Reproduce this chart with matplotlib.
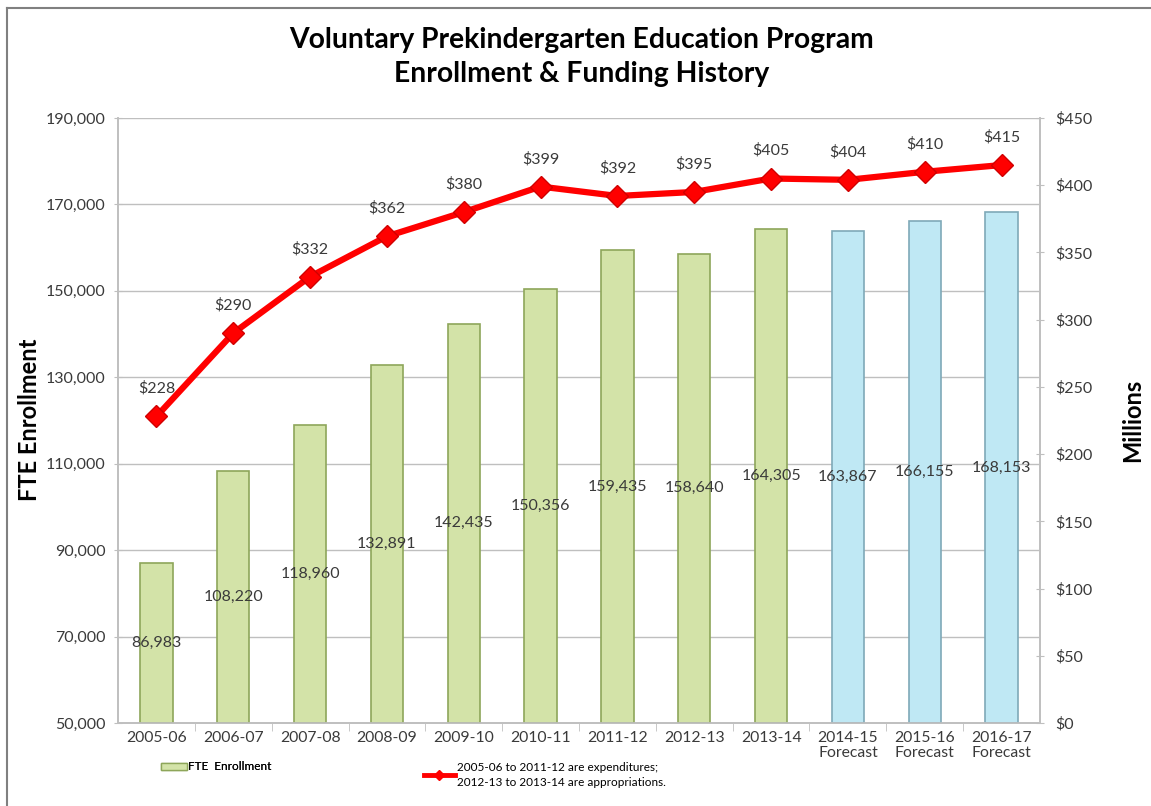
import matplotlib
matplotlib.use("Agg")
import matplotlib.pyplot as plt
from matplotlib.lines import Line2D
from matplotlib.patches import Patch
from matplotlib.ticker import FuncFormatter

plt.rcParams['font.family'] = ['Lato', 'DejaVu Sans']

years = ["2005-06", "2006-07", "2007-08", "2008-09", "2009-10", "2010-11",
         "2011-12", "2012-13", "2013-14", "2014-15\nForecast",
         "2015-16\nForecast", "2016-17\nForecast"]
enrollment = [86983, 108220, 118960, 132891, 142435, 150356,
              159435, 158640, 164305, 163867, 166155, 168153]
funding = [228, 290, 332, 362, 380, 399, 392, 395, 405, 404, 410, 415]
forecast = [False] * 9 + [True] * 3

green_face, green_edge = "#d3e3a8", "#8ea65a"
blue_face, blue_edge = "#bfe8f4", "#7fa9b8"
grid_c = "#bfbfbf"
text_c = "#3a3a3a"

fig = plt.figure(figsize=(11.51, 8.06), dpi=100)
ax = fig.add_axes([118 / 1151, 83 / 806, 922 / 1151, 605 / 806])
ax2 = ax.twinx()

x = list(range(len(years)))
faces = [blue_face if f else green_face for f in forecast]
edges = [blue_edge if f else green_edge for f in forecast]
ax.bar(x, [v - 50000 for v in enrollment], width=0.42, bottom=50000,
       color=faces, edgecolor=edges, linewidth=1.2, zorder=3)
for xi, v in zip(x, enrollment):
    ax.text(xi, (50000 + v) / 2, f"{v:,}", ha="center", va="center",
            fontsize=11.5, color=text_c, zorder=4)

ax.set_ylim(50000, 190000)
ax.set_yticks(range(50000, 190001, 20000))
ax.yaxis.set_major_formatter(FuncFormatter(lambda v, p: f"{int(v):,}"))
ax.set_xlim(-0.5, len(years) - 0.5)
ax.set_xticks(x)
ax.set_xticklabels(years, fontsize=11.3, color=text_c, linespacing=1.1)
ax.set_xticks([i + 0.5 for i in x[:-1]], minor=True)
ax.tick_params(axis="x", which="major", length=0, pad=6)
ax.tick_params(axis="x", which="minor", length=6, color=grid_c, direction="out")
ax.tick_params(axis="y", labelsize=11.5, labelcolor=text_c, color=grid_c,
               length=6, direction="inout", pad=6)
ax.grid(axis="y", color=grid_c, linewidth=1, zorder=0)
ax.set_axisbelow(True)
for s in ["left", "right", "bottom"]:
    ax.spines[s].set_color(grid_c)
    ax.spines[s].set_linewidth(1.2)
ax.spines["top"].set_visible(False)
fig.text(30 / 1151, 1 - 420 / 806, "FTE Enrollment", rotation=90, ha="center",
         va="center", fontsize=17, fontweight="bold")

ax2.plot(x, funding, color="#ff0000", linewidth=4.5, marker="D",
         markersize=11, markerfacecolor="#ff0000", markeredgecolor="#d00000",
         zorder=5)
for xi, v in zip(x, funding):
    ax2.annotate(f"${v}", (xi, v), xytext=(0, 20), textcoords="offset points",
                 ha="center", va="center", fontsize=11.5, color=text_c)
ax2.set_ylim(0, 450)
ax2.set_yticks(range(0, 451, 50))
ax2.yaxis.set_major_formatter(FuncFormatter(lambda v, p: f"${int(v)}"))
ax2.tick_params(axis="y", labelsize=11.5, labelcolor=text_c, color=grid_c,
                length=6, direction="inout", pad=8)
for s in ["left", "right", "bottom"]:
    ax2.spines[s].set_color(grid_c)
    ax2.spines[s].set_linewidth(1.2)
ax2.spines["top"].set_visible(False)
ax2.set_zorder(ax.get_zorder() + 1)
ax2.patch.set_visible(False)
fig.text(1133 / 1151, 1 - 420 / 806, "Millions", rotation=90, ha="center",
         va="center", fontsize=17, fontweight="bold")

fig.text(0.505, 1 - 40 / 806, "Voluntary Prekindergarten Education Program",
         ha="center", va="center", fontsize=20.3, fontweight="bold")
fig.text(0.505, 1 - 74 / 806, "Enrollment & Funding History",
         ha="center", va="center", fontsize=20.3, fontweight="bold")

bar_handle = Patch(facecolor=green_face, edgecolor=green_edge)
line_handle = Line2D([], [], color="#ff0000", linewidth=3.5, marker="D",
                     markersize=5)
leg1 = fig.legend([bar_handle], ["FTE  Enrollment"], loc="center left",
                  bbox_to_anchor=(155 / 1151, 1 - 767 / 806), frameon=False,
                  fontsize=8.5, handlelength=2.2, handleheight=0.5,
                  handletextpad=0.1, borderpad=0)
leg2 = fig.legend([line_handle],
                  ["2005-06 to 2011-12 are expenditures;\n2012-13 to 2013-14 are appropriations."],
                  loc="center left", bbox_to_anchor=(418 / 1151, 1 - 775 / 806),
                  frameon=False, fontsize=8.5, handlelength=2.6,
                  handletextpad=0.2, borderpad=0)
for t in leg2.get_texts():
    t.set_linespacing(1.5)
fig.add_artist(leg1)

fig.add_artist(Line2D([7 / 1151, 7 / 1151], [0, 1 - 8 / 806], color="#808080",
                      linewidth=1.5))
fig.add_artist(Line2D([7 / 1151, 1], [1 - 8 / 806, 1 - 8 / 806],
                      color="#808080", linewidth=1.5))

fig.savefig("out.png", dpi=100)
